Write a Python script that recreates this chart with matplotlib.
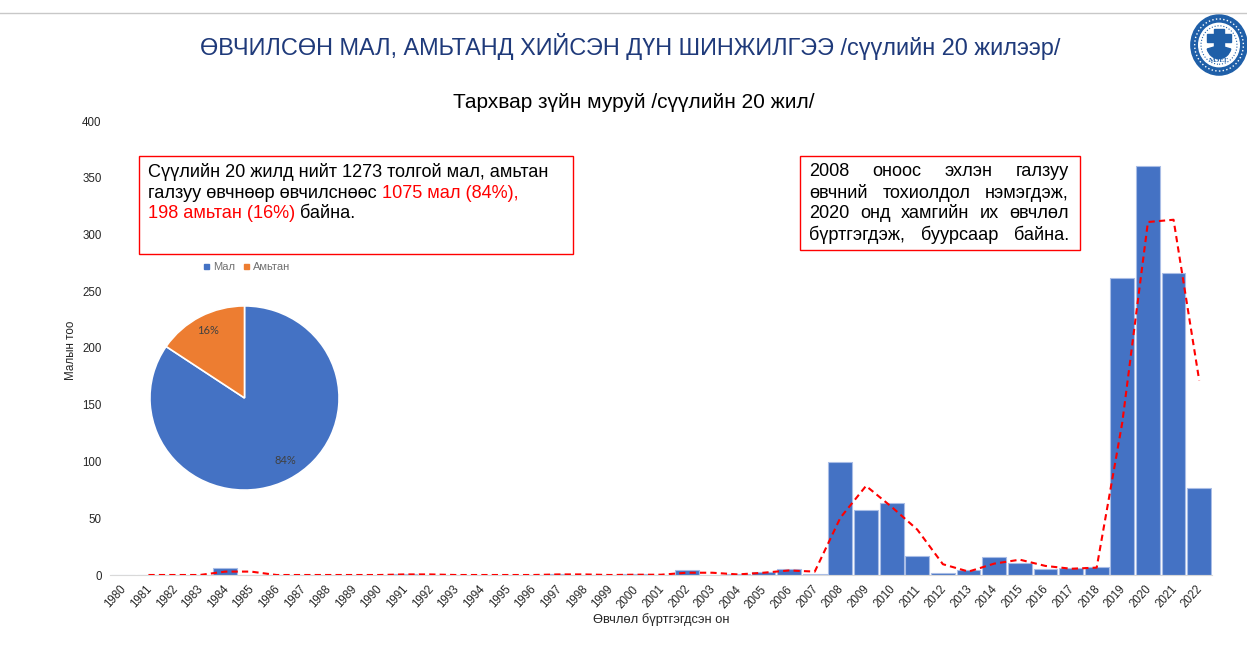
import matplotlib
matplotlib.use("Agg")
import matplotlib.pyplot as plt
from matplotlib.lines import Line2D
from matplotlib.patches import Circle, Rectangle, Wedge
from matplotlib.transforms import ScaledTranslation

plt.rcParams["font.family"] = ["Liberation Sans", "DejaVu Sans"]

BLUE = "#4472C4"
ORANGE = "#ED7D31"
RED = "#FF0000"
NAVY = "#1F3A7A"
W, H = 1247, 666

years = list(range(1980, 2023))
cases = [0, 0, 0, 0, 6, 0, 0, 0, 0, 0, 0, 1, 0, 0, 0, 0, 0, 1, 0, 0, 0.5, 0,
         4, 0, 1, 3, 5, 1, 100, 57, 63, 17, 2, 4, 16, 11, 5, 6, 7, 262, 360, 266, 77]
trend = [None, 0, 0, 0, 3, 3, 0, 0, 0, 0, 0, 0.5, 0.5, 0, 0, 0, 0, 0.5, 0.5, 0, 0.25, 0.25,
         2, 2, 0.5, 2, 4, 3, 50.5, 78.5, 60, 40, 9.5, 3, 10, 13.5, 8, 5.5, 6.5, 134.5, 311, 313, 171.5]
y_ticks = [0, 50, 100, 150, 200, 250, 300, 350, 400]
pie_labels = ["Мал", "Амьтан"]
pie_values = [1075, 198]
pie_pct = ["84%", "16%"]

title = "ӨВЧИЛСӨН МАЛ, АМЬТАНД ХИЙСЭН ДҮН ШИНЖИЛГЭЭ /сүүлийн 20 жилээр/"
chart_title = "Тархвар зүйн муруй /сүүлийн 20 жил/"
x_label = "Өвчлөл бүртгэгдсэн он"
y_label = "Малын тоо"
box1_lines = [
    [("Сүүлийн 20 жилд нийт 1273 толгой мал, амьтан", "black")],
    [("галзуу өвчнөөр өвчилснөөс ", "black"), ("1075 мал (84%),", RED)],
    [("198 амьтан (16%)", RED), (" байна.", "black")],
]
box2_lines = [
    "2008 оноос эхлэн галзуу",
    "өвчний тохиолдол нэмэгдэж,",
    "2020 онд хамгийн их өвчлөл",
    "бүртгэгдэж, буурсаар байна.",
]


def fx(px):
    return px / W


def fy(py):
    return 1 - py / H


def text_width(fig, s, size):
    t = fig.text(0, 0, s.replace(" ", "\u00a0"), fontsize=size)
    w = t.get_window_extent(fig.canvas.get_renderer()).width
    t.remove()
    return w


def px_text(fig, x, y, s, size, color="black", ha="left", **kw):
    return fig.text(fx(x), fy(y), s, fontsize=size, color=color, ha=ha, va="center", **kw)


def draw_box(fig, x0, y0, x1, y1):
    fig.add_artist(Rectangle((fx(x0), fy(y1)), fx(x1 - x0), (y1 - y0) / H,
                             transform=fig.transFigure, fill=False, edgecolor=RED, linewidth=1))


fig = plt.figure(figsize=(W / 100, H / 100), dpi=100, facecolor="white")

# header
fig.add_artist(Line2D([0, 1], [fy(13), fy(13)], color="#C8C8C8", linewidth=1))
px_text(fig, 630, 47, title, 16.95, color=NAVY, ha="center")
px_text(fig, 634, 102, chart_title, 15, ha="center")

# bars and trend line
ax = fig.add_axes([fx(110), fy(575), fx(1102), (575 - 121) / H])
xs = list(range(len(years)))
ax.bar(xs, cases, width=0.93, color=BLUE, edgecolor="#A9BDE6", linewidth=0.8, zorder=2)
tx = [x for x, v in zip(xs, trend) if v is not None]
tv = [v for v in trend if v is not None]
ax.plot(tx, tv, color=RED, linestyle=(0, (3, 2)), linewidth=1.5, zorder=3)
ax.set_xlim(-0.5, len(years) - 0.5)
ax.set_ylim(0, 400)
ax.set_yticks(y_ticks)
ax.set_xticks(xs)
ax.set_xticklabels(years, rotation=48, ha="right", rotation_mode="anchor")
ax.tick_params(axis="both", length=0, labelsize=8.3, colors="#262626")
ax.tick_params(axis="y", pad=6)
ax.tick_params(axis="x", pad=6)
# nudge the year labels a little left, as in the original
shift = ScaledTranslation(-3 / 100, 0, fig.dpi_scale_trans)
for label in ax.get_xticklabels():
    label.set_transform(label.get_transform() + shift)
for side in ["top", "right", "left"]:
    ax.spines[side].set_visible(False)
ax.spines["bottom"].set_color("#D9D9D9")
px_text(fig, 661, 620, x_label, 9.3, color="#262626", ha="center")
px_text(fig, 71, 350, y_label, 8.4, color="#262626", ha="center", rotation=90)

# left note
draw_box(fig, 139, 156, 573, 254)
for py, parts in zip([172, 193, 214], box1_lines):
    cur = 148
    for s, c in parts:
        px_text(fig, cur, py, s.replace(" ", "\u00a0"), 13.1, color=c)
        cur += text_width(fig, s, 13.1)

# right note, justified word by word
draw_box(fig, 800, 156, 1080, 250)
for py, line in zip([172, 193, 214, 235], box2_lines):
    words = line.split()
    widths = [text_width(fig, w, 13.1) for w in words]
    gap = (1069 - 809 - sum(widths)) / (len(words) - 1)
    cur = 809
    for w, wd in zip(words, widths):
        px_text(fig, cur, py, w, 13.1)
        cur += wd + gap

# pie
pie_ax = fig.add_axes([fx(149), fy(491), fx(191), (491 - 305) / H])
wedges, _ = pie_ax.pie(pie_values, colors=[BLUE, ORANGE], startangle=90, counterclock=False,
                       radius=1.0, wedgeprops={"edgecolor": "white", "linewidth": 1.2})
pie_ax.set_aspect("auto")
pie_ax.set_xlim(-1.01, 1.01)
pie_ax.set_ylim(-1.01, 1.01)
px_text(fig, 285, 461, pie_pct[0], 8, color="#404040", ha="center", family="Lato")
px_text(fig, 208, 331, pie_pct[1], 8, color="#404040", ha="center", family="Lato")

# pie legend
fig.add_artist(Rectangle((fx(204), fy(269)), 5 / W, 5 / H, transform=fig.transFigure, color=BLUE))
px_text(fig, 213, 267, pie_labels[0], 8, color="#707070")
fig.add_artist(Rectangle((fx(244), fy(269)), 5 / W, 5 / H, transform=fig.transFigure, color=ORANGE))
px_text(fig, 253, 267, pie_labels[1], 8, color="#707070")

# logo
logo = fig.add_axes([fx(1190), fy(76), fx(58), 62 / H])
logo.set_xlim(-1, 1)
logo.set_ylim(-1, 1)
logo.axis("off")
logo.add_patch(Circle((0, 0), 0.97, color="#1F5FA8"))
logo.add_patch(Circle((0, 0), 0.84, fill=False, edgecolor="white", linewidth=1, linestyle=":"))
logo.add_patch(Circle((0, 0), 0.7, color="white"))
logo.add_patch(Circle((0, 0), 0.62, fill=False, edgecolor="#1F5FA8", linewidth=0.8, linestyle=":"))
logo.add_patch(Rectangle((-0.42, 0.1), 0.84, 0.26, color="#1F5FA8"))
logo.add_patch(Rectangle((-0.18, -0.2), 0.36, 0.72, color="#1F5FA8"))
logo.add_patch(Wedge((0, -0.02), 0.42, 195, 345, color="#1F5FA8"))
logo.text(0, -0.5, "МЭЕГ", fontsize=5, color="#1F5FA8", ha="center", va="center",
          family="Liberation Serif", weight="bold")

fig.savefig("out.png", dpi=100, facecolor="white")
